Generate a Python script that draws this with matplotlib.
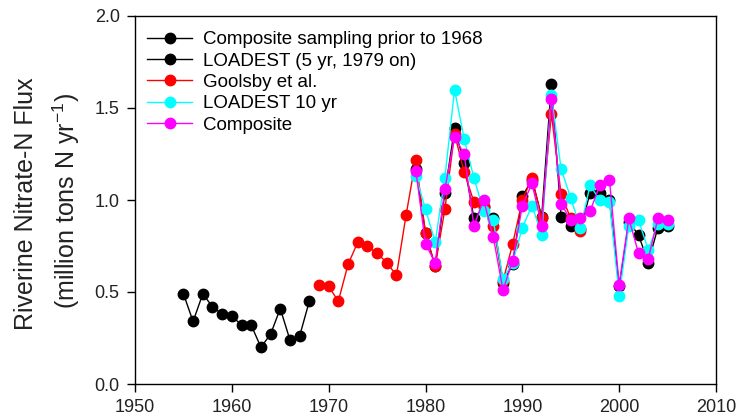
import numpy as np
import matplotlib
matplotlib.use("Agg")
import matplotlib.pyplot as plt

plt.rcParams["font.family"] = ["Liberation Sans", "DejaVu Sans"]
plt.rcParams["mathtext.default"] = "regular"

# composite sampling prior to 1968
early_years = list(range(1955, 1969))
early_flux = [0.49, 0.34, 0.49, 0.42, 0.38, 0.37, 0.32, 0.32, 0.20, 0.27, 0.41, 0.24, 0.26, 0.45]

# Goolsby et al.
goolsby_years = list(range(1969, 1997))
goolsby_flux = [0.54, 0.53, 0.45, 0.65, 0.77, 0.75, 0.71, 0.66, 0.59, 0.92,
                1.22, 0.82, 0.64, 0.95, 1.36, 1.15, 0.99, 0.97, 0.86, 0.56,
                0.76, 1.00, 1.12, 0.90, 1.47, 1.03, 0.90, 0.83]

# 1979 on: LOADEST 5 yr, LOADEST 10 yr, composite
late_years = list(range(1979, 2006))
loadest5 = [1.17, 0.82, 0.64, 1.04, 1.39, 1.20, 0.90, 0.96, 0.90, 0.55,
            0.65, 1.02, 1.11, 0.91, 1.63, 0.91, 0.86, 0.84, 1.04, 1.04,
            1.00, 0.53, 0.88, 0.81, 0.66, 0.85, 0.86]
loadest10 = [1.13, 0.95, 0.77, 1.12, 1.60, 1.33, 1.12, 0.94, 0.89, 0.57,
             0.66, 0.85, 0.97, 0.81, 1.57, 1.17, 1.01, 0.85, 1.08, 1.00,
             0.99, 0.48, 0.86, 0.89, 0.73, 0.87, 0.87]
composite = [1.16, 0.76, 0.66, 1.06, 1.34, 1.25, 0.86, 1.00, 0.80, 0.51,
             0.67, 0.97, 1.09, 0.86, 1.55, 0.98, 0.89, 0.90, 0.94, 1.08,
             1.11, 0.54, 0.90, 0.71, 0.68, 0.90, 0.89]

labels = ["Composite sampling prior to 1968", "LOADEST (5 yr, 1979 on)",
          "Goolsby et al.", "LOADEST 10 yr", "Composite"]

fig = plt.figure(figsize=(7.4, 4.19), dpi=100)
ax = fig.add_axes([135 / 740, 35 / 419, 581 / 740, 368 / 419])

style = dict(marker="o", markersize=7.5, linewidth=1.0)
ax.plot(early_years, early_flux, color="black", mec="black", label=labels[0], **style)
ax.plot(late_years, loadest5, color="black", mec="black", label=labels[1], **style)
ax.plot(goolsby_years, goolsby_flux, color="#ff0000", mec="#ff0000", label=labels[2], **style)
ax.plot(late_years, loadest10, color="#00ffff", mec="#00ffff", label=labels[3], **style)
ax.plot(late_years, composite, color="#ff00ff", mec="#ff00ff", label=labels[4], **style)

ax.set_xlim(1950, 2010)
ax.set_ylim(0, 2.0)
ax.set_xticks(np.arange(1950, 2011, 10))
ax.set_yticks(np.arange(0, 2.01, 0.5))
ax.set_yticklabels([f"{v:.1f}" for v in np.arange(0, 2.01, 0.5)])
ax.tick_params(direction="out", length=6, width=1, labelsize=13,
               labelcolor="#222222", top=False, right=False, pad=5)
for s in ax.spines.values():
    s.set_linewidth(1.0)

fig.text(26 / 740, 0.513, "Riverine Nitrate-N Flux", rotation=90,
         ha="center", va="center", fontsize=18, color="#222222")
fig.text(66 / 740, 0.52, "(million tons N yr$^{-1}$)", rotation=90,
         ha="center", va="center", fontsize=18, color="#222222")

ax.legend(loc="upper left", bbox_to_anchor=(138 / 740, (419 - 22) / 419),
          bbox_transform=fig.transFigure, frameon=False, fontsize=13.5,
          borderpad=0, handlelength=2.4, handletextpad=0.55,
          labelspacing=0.22, markerscale=1.0)

fig.savefig("out.png", dpi=100)
